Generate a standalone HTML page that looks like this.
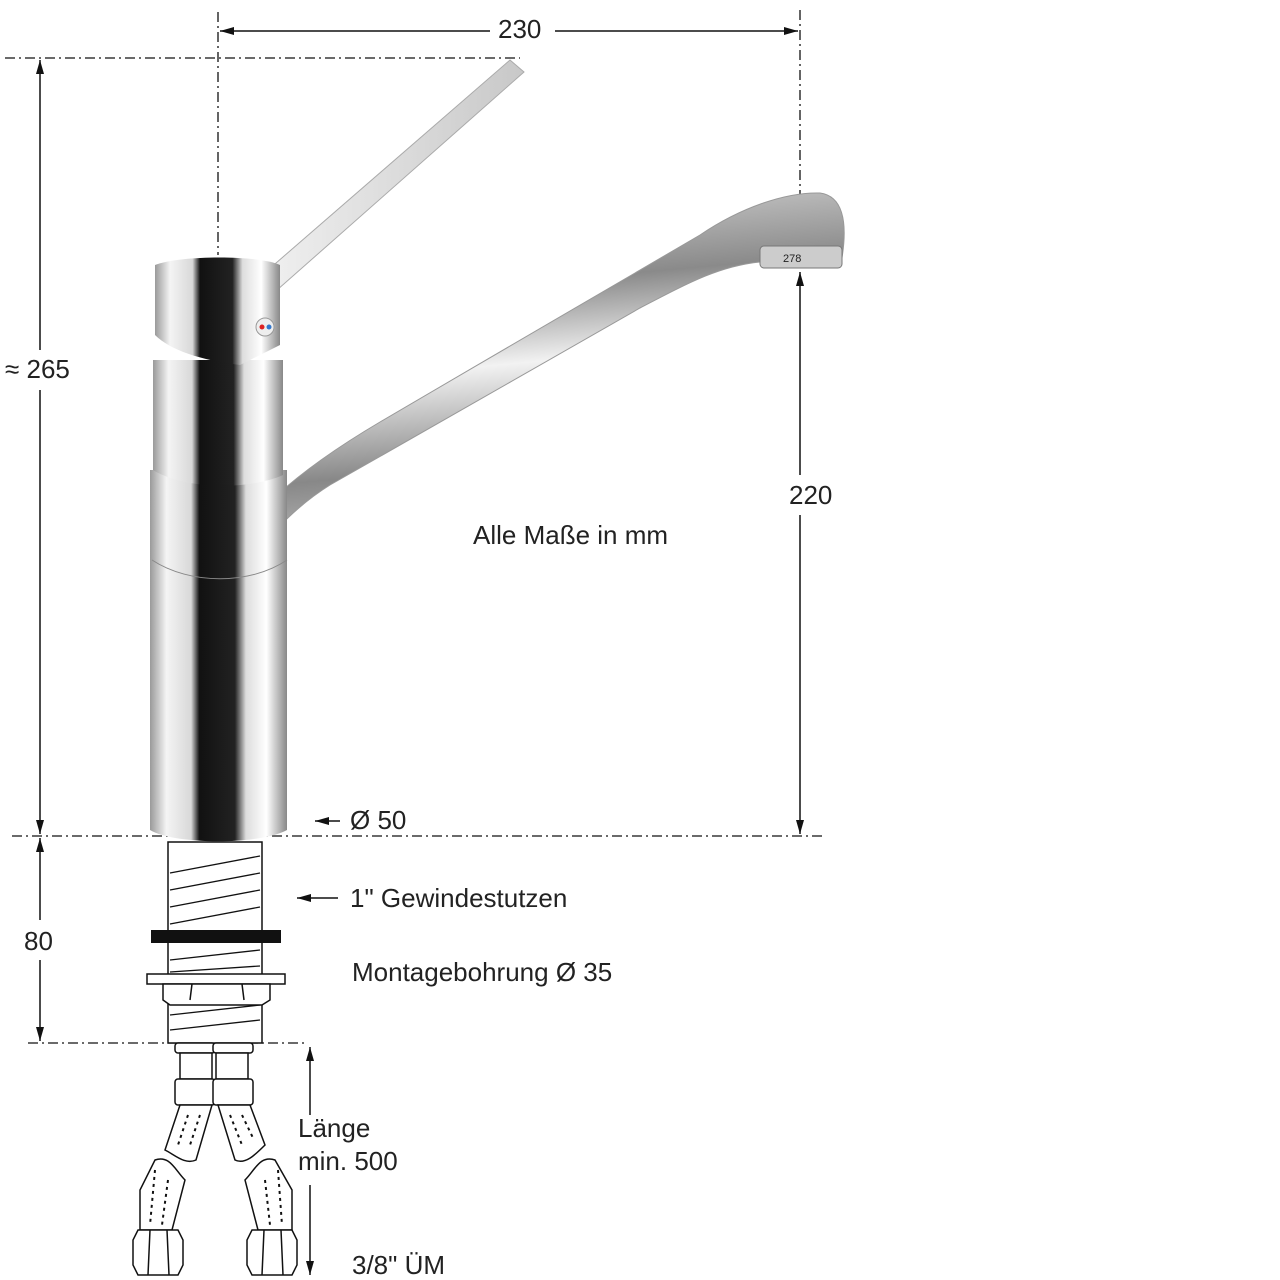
<!DOCTYPE html>
<html><head><meta charset="utf-8"><style>
html,body{margin:0;padding:0;background:#fff;}
svg{display:block;}
text{font-family:"Liberation Sans",sans-serif;font-size:26px;fill:#222;}
</style></head><body>
<svg width="1280" height="1280" viewBox="0 0 1280 1280" xmlns="http://www.w3.org/2000/svg">
<defs>
<marker id="a" markerWidth="14" markerHeight="8" refX="14" refY="4" orient="auto-start-reverse" markerUnits="userSpaceOnUse"><path d="M0,0 L14,4 L0,8 z" fill="#111"/></marker>
<linearGradient id="cyl" x1="0" x2="1">
<stop offset="0" stop-color="#9a9a9a"/><stop offset="0.12" stop-color="#f4f4f4"/><stop offset="0.3" stop-color="#d8d8d8"/><stop offset="0.36" stop-color="#111"/><stop offset="0.62" stop-color="#222"/><stop offset="0.7" stop-color="#ddd"/><stop offset="0.85" stop-color="#fff"/><stop offset="1" stop-color="#888"/></linearGradient>
<linearGradient id="sp" x1="0" y1="0" x2="0.15" y2="1">
<stop offset="0" stop-color="#e0e0e0"/><stop offset="0.3" stop-color="#8a8a8a"/><stop offset="0.5" stop-color="#f2f2f2"/><stop offset="0.75" stop-color="#888"/><stop offset="1" stop-color="#cfcfcf"/></linearGradient>
<linearGradient id="lv" x1="0" x2="1"><stop offset="0" stop-color="#f2f2f2"/><stop offset="1" stop-color="#c8c8c8"/></linearGradient>
</defs>
<g stroke="#111" stroke-width="1.3" stroke-dasharray="10,4,2,4" fill="none">
<line x1="218" y1="12" x2="218" y2="255"/>
<line x1="800" y1="10" x2="800" y2="195"/>
<line x1="5" y1="58" x2="520" y2="58"/>
<line x1="12" y1="836" x2="825" y2="836"/>
<line x1="28" y1="1043" x2="305" y2="1043"/>
</g>
<g stroke="#111" stroke-width="1.5" fill="none">
<line x1="220" y1="31" x2="490" y2="31" marker-start="url(#a)"/>
<line x1="555" y1="31" x2="798" y2="31" marker-end="url(#a)"/>
<line x1="40" y1="60" x2="40" y2="350" marker-start="url(#a)"/>
<line x1="40" y1="390" x2="40" y2="834" marker-end="url(#a)"/>
<line x1="40" y1="838" x2="40" y2="920" marker-start="url(#a)"/>
<line x1="40" y1="960" x2="40" y2="1041" marker-end="url(#a)"/>
<line x1="800" y1="272" x2="800" y2="475" marker-start="url(#a)"/>
<line x1="800" y1="515" x2="800" y2="834" marker-end="url(#a)"/>
<line x1="340" y1="821" x2="315" y2="821" marker-end="url(#a)"/>
<line x1="338" y1="898" x2="297" y2="898" marker-end="url(#a)"/>
<line x1="310" y1="1115" x2="310" y2="1047" marker-end="url(#a)"/>
<line x1="310" y1="1185" x2="310" y2="1275" marker-end="url(#a)"/>
</g>
<text x="498" y="38">230</text>
<text x="5" y="378">≈ 265</text>
<text x="789" y="504">220</text>
<text x="473" y="544">Alle Maße in mm</text>
<text x="350" y="829">Ø 50</text>
<text x="350" y="907">1" Gewindestutzen</text>
<text x="24" y="950">80</text>
<text x="352" y="981">Montagebohrung Ø 35</text>
<text x="298" y="1137">Länge</text>
<text x="298" y="1170">min. 500</text>
<text x="352" y="1274">3/8" ÜM</text>
<!-- spout -->
<path d="M205,578 C250,515 290,475 380,422 L700,235 C740,208 785,192 820,193 C842,196 848,220 842,258 L760,262 C720,266 690,282 640,308 L330,485 C290,510 260,545 235,582 Z" fill="url(#sp)" stroke="#999" stroke-width="1"/>
<rect x="760" y="246" width="82" height="22" rx="4" fill="#ccc" stroke="#777"/>
<text x="783" y="262" style="font-size:11px">278</text>
<!-- lever -->
<path d="M253,283 L510,60 L524,72 L268,298 Z" fill="url(#lv)" stroke="#aaa"/>
<!-- body -->
<path d="M150,470 L287,470 L287,830 C260,845 175,845 150,830 Z" fill="url(#cyl)"/>
<path d="M152,560 C190,585 250,585 287,560" stroke="#888" fill="none"/>
<path d="M153,360 L283,360 L283,475 C250,490 185,490 153,470 Z" fill="url(#cyl)"/>
<path d="M155,265 C180,255 260,255 280,265 L280,345 L240,365 C200,360 170,350 155,335 Z" fill="url(#cyl)"/>
<circle cx="265" cy="327" r="9" fill="#eee" stroke="#999"/>
<circle cx="262" cy="327" r="2.5" fill="#d22"/><circle cx="269" cy="327" r="2.5" fill="#37c"/>
<!-- thread -->
<rect x="168" y="842" width="94" height="201" fill="#fff" stroke="#111" stroke-width="1.5"/>
<g stroke="#111" stroke-width="1.3">
<line x1="170" y1="873" x2="260" y2="856"/><line x1="170" y1="890" x2="260" y2="873"/><line x1="170" y1="907" x2="260" y2="890"/><line x1="170" y1="924" x2="260" y2="907"/>
<line x1="170" y1="960" x2="260" y2="950"/><line x1="170" y1="972" x2="260" y2="966"/>
<line x1="170" y1="1015" x2="260" y2="1005"/><line x1="170" y1="1030" x2="260" y2="1020"/>
</g>
<rect x="151" y="930" width="130" height="13" fill="#111"/>
<rect x="147" y="974" width="138" height="10" fill="#fff" stroke="#111" stroke-width="1.5"/>
<path d="M163,984 L270,984 L270,1000 L262,1005 L170,1005 L163,1000 Z M192,984 L190,1000 M242,984 L244,1000" fill="#fff" stroke="#111" stroke-width="1.5"/>
<!-- connectors -->
<g fill="#fff" stroke="#111" stroke-width="1.5">
<rect x="175" y="1043" width="40" height="10" rx="3"/><rect x="213" y="1043" width="40" height="10" rx="3"/>
<rect x="180" y="1053" width="32" height="26"/><rect x="216" y="1053" width="32" height="26"/>
<rect x="175" y="1079" width="40" height="26" rx="3"/><rect x="213" y="1079" width="40" height="26" rx="3"/>
<path d="M180,1105 L212,1105 L196,1160 C185,1165 175,1155 165,1150 Z"/>
<path d="M218,1105 L250,1105 L265,1145 C255,1155 245,1165 235,1160 Z"/>
<path d="M155,1160 C170,1155 175,1170 185,1180 L172,1230 L140,1230 L140,1190 Z"/>
<path d="M275,1160 C260,1155 255,1170 245,1180 L258,1230 L292,1230 L292,1190 Z"/>
<path d="M138,1230 L178,1230 L183,1240 L183,1265 L178,1275 L138,1275 L133,1265 L133,1240 Z M150,1230 L148,1275 M167,1230 L169,1275"/>
<path d="M252,1230 L292,1230 L297,1240 L297,1265 L292,1275 L252,1275 L247,1265 L247,1240 Z M264,1230 L262,1275 M281,1230 L283,1275"/>
</g>
<g stroke="#111" stroke-width="2" stroke-dasharray="3,4">
<line x1="188" y1="1115" x2="178" y2="1145"/><line x1="200" y1="1115" x2="190" y2="1145"/>
<line x1="230" y1="1115" x2="242" y2="1145"/><line x1="242" y1="1115" x2="254" y2="1140"/>
<line x1="155" y1="1170" x2="150" y2="1225"/><line x1="168" y1="1180" x2="162" y2="1225"/>
<line x1="265" y1="1180" x2="270" y2="1225"/><line x1="278" y1="1170" x2="282" y2="1225"/>
</g>
</svg>
</body></html>
